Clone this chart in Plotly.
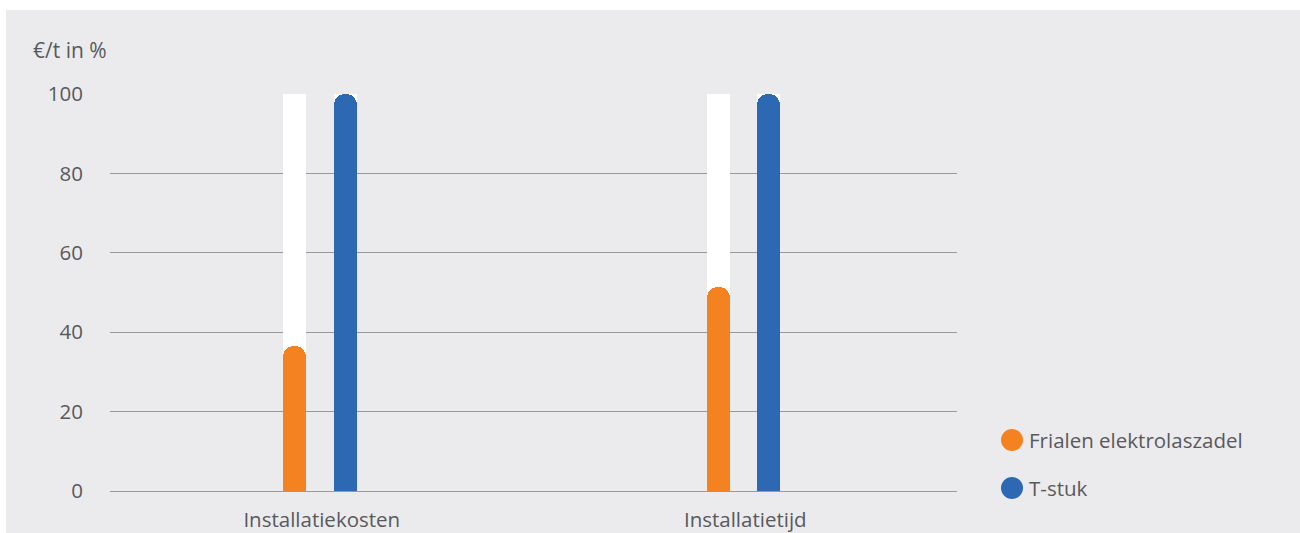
import plotly.graph_objects as go

categories = ["Installatiekosten", "Installatietijd"]
frialen = [36.5, 51.5]
tstuk = [100, 100]
track = [100, 100]
series_names = ["Frialen elektrolaszadel", "T-stuk"]
y_ticks = [0, 20, 40, 60, 80, 100]

ORANGE = "#F58220"
BLUE = "#2D68B3"
BG = "#EBEBED"
TXT = "#58595B"
GRID = "#9A9A9A"
FONT = "Open Sans"
FS = 20.5

W, H = 1300, 533
ML, MR, MT, MB = 110, 343, 94, 42
PW, PH = W - ML - MR, H - MT - MB

bw = 0.0543
off_o = -0.0915
off_b = 0.0289

fig = go.Figure()
# white tracks (base x axis)
for off in (off_o, off_b):
    fig.add_trace(go.Bar(x=categories, y=track, offset=off, width=bw,
                         marker=dict(color="white", line=dict(width=0)),
                         showlegend=False, hoverinfo="skip", xaxis="x", yaxis="y"))
# data bars on an overlaying x axis so their rounding is independent of the tracks
fig.add_trace(go.Bar(x=categories, y=frialen, offset=off_o, width=bw, name=series_names[0],
                     marker=dict(color=ORANGE, line=dict(width=0), cornerradius="50%"),
                     showlegend=False, xaxis="x2", yaxis="y"))
fig.add_trace(go.Bar(x=categories, y=tstuk, offset=off_b, width=bw, name=series_names[1],
                     marker=dict(color=BLUE, line=dict(width=0), cornerradius="50%"),
                     showlegend=False, xaxis="x2", yaxis="y"))

def px_x(x):
    return (x - ML) / PW

def px_y(y):
    return (H - MB - y) / PH

shapes = [
    dict(type="rect", xref="paper", yref="paper", layer="below",
         x0=px_x(6), x1=px_x(1320), y0=px_y(560), y1=px_y(10),
         fillcolor=BG, line=dict(width=0)),
]
annotations = [
    dict(text="€/t in %", xref="paper", yref="paper", x=px_x(31), y=px_y(50),
         xanchor="left", yanchor="middle", showarrow=False,
         font=dict(family=FONT, size=21, color=TXT)),
]
legend_items = [(series_names[0], ORANGE, 440), (series_names[1], BLUE, 488)]
r = 11
for name, col, cy in legend_items:
    cx = 1012
    shapes.append(dict(type="circle", xref="paper", yref="paper",
                       x0=px_x(cx - r), x1=px_x(cx + r), y0=px_y(cy + r), y1=px_y(cy - r),
                       fillcolor=col, line=dict(width=0)))
    annotations.append(dict(text=name, xref="paper", yref="paper", x=px_x(1027), y=px_y(cy),
                            xanchor="left", yanchor="middle", showarrow=False,
                            font=dict(family=FONT, size=FS, color=TXT)))

fig.update_layout(
    width=W, height=H,
    margin=dict(l=ML, r=MR, t=MT, b=MB, pad=0, autoexpand=False),
    paper_bgcolor="white", plot_bgcolor=BG,
    barmode="overlay", bargap=0,
    font=dict(family=FONT, size=FS, color=TXT),
    shapes=shapes, annotations=annotations,
    showlegend=False,
    xaxis=dict(showgrid=False, showline=False, zeroline=False, ticks="",
               tickfont=dict(family=FONT, size=FS, color=TXT), range=[-0.5, 1.5],
               ticklabelstandoff=14, automargin=False),
    xaxis2=dict(overlaying="x", range=[-0.5, 1.5], showgrid=False, showline=False,
                zeroline=False, ticks="", showticklabels=False, automargin=False),
    yaxis=dict(range=[0, 100], tickvals=y_ticks, showgrid=True, gridcolor=GRID, gridwidth=1,
               zeroline=True, zerolinecolor=GRID, zerolinewidth=1, showline=False, ticks="",
               tickfont=dict(family=FONT, size=FS, color=TXT), ticklabelstandoff=26,
               automargin=False),
)

fig.write_html("out.html", config={"displayModeBar": False},
               post_script="document.body.style.margin='0';")
